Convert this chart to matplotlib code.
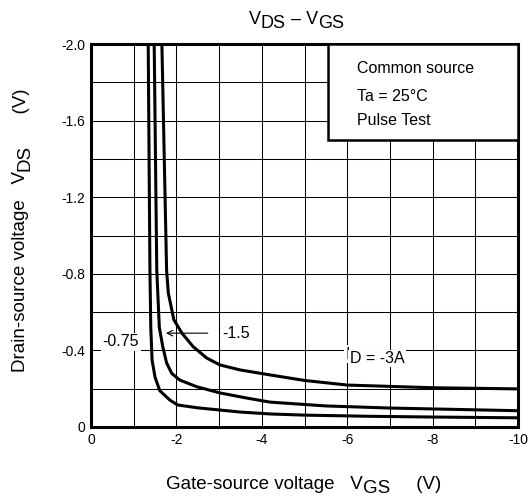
import numpy as np
import matplotlib.pyplot as plt
from matplotlib.patches import Rectangle

plt.rcParams['font.family'] = ['Liberation Sans', 'DejaVu Sans']
plt.rcParams['axes.unicode_minus'] = False

# curves, VGS (V) vs VDS (V)
vgs_075 = [-1.34, -1.38, -1.40, -1.43, -1.50, -1.61, -1.85, -2.03, -2.5, -3.0, -3.5, -4.2, -5.0, -6.5, -8.0, -10.0]
vds_075 = [-2.0, -0.82, -0.52, -0.35, -0.26, -0.19, -0.14, -0.115, -0.10, -0.089, -0.078, -0.068, -0.062, -0.056, -0.052, -0.048]

vgs_15 = [-1.48, -1.54, -1.60, -1.68, -1.77, -1.89, -2.08, -2.48, -3.02, -3.65, -4.19, -5.5, -7.0, -10.0]
vds_15 = [-2.0, -0.82, -0.52, -0.42, -0.335, -0.28, -0.245, -0.21, -0.178, -0.151, -0.13, -0.11, -0.099, -0.085]

vgs_3 = [-1.66, -1.77, -1.81, -1.94, -2.13, -2.39, -2.71, -3.02, -3.49, -4.19, -5.0, -6.0, -8.0, -10.0]
vds_3 = [-2.0, -0.82, -0.70, -0.56, -0.49, -0.42, -0.36, -0.324, -0.298, -0.272, -0.243, -0.219, -0.205, -0.199]

x_ticks = [0, -2, -4, -6, -8, -10]
x_labels = ['0', '-2', '-4', '-6', '-8', '-10']
y_ticks = [0, -0.4, -0.8, -1.2, -1.6, -2.0]
y_labels = ['0', '-0.4', '-0.8', '-1.2', '-1.6', '-2.0']


def chain(first, pieces, size, rotated=False, **kw):
    # append text pieces after `first`; each piece gets an offset (points)
    # relative to the previous one, so subscripts stay full size but lowered
    prev = first
    for s, d in pieces:
        if rotated:
            prev = ax.annotate(s, xy=(0.5, 1), xycoords=prev, xytext=(-d, 0),
                               textcoords='offset points', ha='center', va='bottom',
                               fontsize=size, rotation=90, annotation_clip=False, **kw)
        else:
            prev = ax.annotate(s, xy=(1, 0), xycoords=prev, xytext=(0, d),
                               textcoords='offset points', ha='left', va='bottom',
                               fontsize=size, annotation_clip=False, **kw)
    return prev


fig = plt.figure(figsize=(5.32, 5.00), dpi=100)
ax = fig.add_axes([0.171, 0.146, 0.803, 0.766])

ax.set_xlim(0, -10)
ax.set_ylim(0, -2.0)

# grid
ax.set_xticks(np.arange(0, -10.5, -1), minor=True)
ax.set_yticks(np.arange(0, -2.1, -0.2), minor=True)
ax.set_xticks(x_ticks)
ax.set_xticklabels(x_labels)
ax.set_yticks(y_ticks)
ax.set_yticklabels(y_labels)
ax.grid(which='both', color='black', lw=0.75)
ax.set_axisbelow(True)
ax.tick_params(which='both', length=0, labelsize=10, pad=4)

for s in ax.spines.values():
    s.set_linewidth(2.2)

# curves
for xs, ys in [(vgs_075, vds_075), (vgs_15, vds_15), (vgs_3, vds_3)]:
    ax.plot(xs, ys, color='black', lw=2.2, solid_joinstyle='round', zorder=3)

# condition box
ax.add_patch(Rectangle((-5.55, -1.5), -4.45, -0.5, facecolor='white',
                       edgecolor='black', lw=1.8, zorder=4))
ax.text(-6.23, -1.87, 'Common source', fontsize=11.5, va='center', zorder=5)
ax.text(-6.23, -1.725, 'Ta = 25\u00b0C', fontsize=11.5, va='center', zorder=5)
ax.text(-6.23, -1.60, 'Pulse Test', fontsize=11.5, va='center', zorder=5)

# curve labels
bb = dict(facecolor='white', edgecolor='none', pad=1)
ax.text(-0.70, -0.445, '-0.75', fontsize=11.5, ha='center', va='center', bbox=bb, zorder=4)
ax.text(-3.07, -0.49, '-1.5', fontsize=11.5, ha='left', va='center', bbox=bb, zorder=4)
ax.annotate('', xy=(-1.69, -0.49), xytext=(-2.8, -0.49),
            arrowprops=dict(arrowstyle='->', color='black', lw=0.8), zorder=4)
t_id = ax.text(-5.95, -0.34, 'I', fontsize=11.5, ha='left', va='bottom', bbox=bb, zorder=4)
chain(t_id, [('D = -3A', -3)], 11.5, bbox=bb, zorder=4)

# title and axis labels
t = fig.text(249 / 532, 1 - 28 / 500, 'V', fontsize=13, ha='left', va='bottom')
chain(t, [('DS', -3), (' \u2013 V', 3), ('GS', -3)], 13)

t = fig.text(166 / 532, 1 - 493 / 500, 'Gate-source voltage   V', fontsize=13.5,
             ha='left', va='bottom')
chain(t, [('GS', -3), ('     (V)', 3)], 13.5)

t = fig.text(21 / 532, 1 - 372 / 500, 'Drain-source voltage   V', fontsize=13.5,
             ha='center', va='bottom', rotation=90)
chain(t, [('DS', -3), ('      (V)', 3)], 13.5, rotated=True)

fig.savefig('out.png', dpi=100)
